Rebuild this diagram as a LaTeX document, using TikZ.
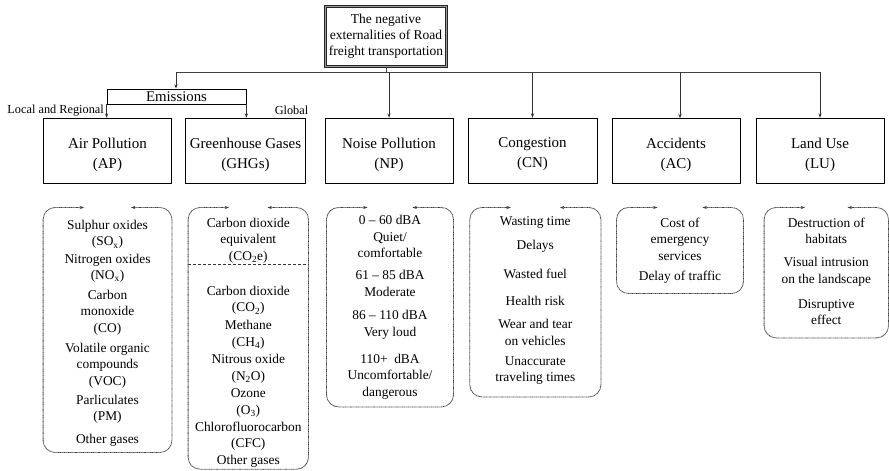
\documentclass[tikz,border=0pt]{standalone}
\usepackage{fontspec}
\setmainfont{Liberation Serif}
\usetikzlibrary{arrows.meta,calc}
\newcommand\drawlist[1]{%
  \draw[lst] ($(#1.north west)+(41,0)$) -- (#1.north west) -- (#1.south west)
     -- (#1.south east) -- (#1.north east) -- ($(#1.north east)+(-41,0)$);}
\begin{document}
\begin{tikzpicture}[x=1pt,y=-1pt,
  cat/.style={draw=black, line width=0.9pt, minimum height=65pt, inner sep=0pt},
  cattxt/.style={align=center, inner sep=0pt, font=\fontsize{15}{20}\selectfont},
  item/.style={align=center, inner sep=0pt, font=\fontsize{13.4}{16.5}\selectfont},
  lstnode/.style={inner sep=0pt, draw=none},
  lst/.style={draw=black!75, line width=0.8pt, dash pattern=on 0.7pt off 0.45pt,
     rounded corners=12pt, {Stealth[length=4.5pt,width=3.2pt]}-{Stealth[length=4.5pt,width=3.2pt]}},
  arr/.style={draw=black!80, line width=0.7pt, -{Stealth[length=4.5pt,width=3.2pt]}},
  conn/.style={draw=black!75, line width=0.7pt},
  lbl/.style={inner sep=0pt, font=\fontsize{12.3}{14}\selectfont}]
\useasboundingbox (0,0) rectangle (889,471);

% top box
\node[draw=black!85, line width=0.9pt, double=black!40, double distance=1.1pt,
      minimum width=121pt, minimum height=60pt, inner sep=1pt, align=center,
      font=\fontsize{13.5}{16}\selectfont] (top) at (386,36.5)
      {The negative\\externalities of Road\\freight transportation};

% emissions box
\node[draw=black, line width=0.8pt, minimum width=139pt, minimum height=15pt, inner sep=0pt,
      font=\fontsize{14.8}{15}\selectfont] (em) at (176.5,96.5) {Emissions};
\node[lbl, anchor=east] (locreg) at (104,111) {Local and Regional};
\node[lbl] (glob) at (291.5,110) {Global};

% category boxes
\node[cat, minimum width=128.4pt] (ap) at (107.5,150.8) {};
\node[cat, minimum width=119.3pt] (ghg) at (245.5,150.8) {};
\node[cat, minimum width=128pt] (np) at (389,150.8) {};
\node[cat, minimum width=129pt] (cn) at (532.5,150.8) {};
\node[cat, minimum width=128pt] (ac) at (676,150.8) {};
\node[cat, minimum width=128pt] (lu) at (820,150.8) {};
\node[cattxt] (apt) at (107.5,154.5) {Air Pollution\\(AP)};
\node[cattxt] (ghgt) at (245.5,154.5) {Greenhouse Gases\\(GHGs)};
\node[cattxt] (npt) at (389,154.5) {Noise Pollution\\(NP)};
\node[cattxt] (cnt) at (532.5,154.5) {Congestion\\(CN)};
\node[cattxt] (act) at (676,154.5) {Accidents\\(AC)};
\node[cattxt] (lut) at (820,154.5) {Land Use\\(LU)};

% connectors
\coordinate (jl) at (176,72);
\coordinate (jr) at (820,72);
\draw[conn] (jl) -- (jr);
\draw[conn] (top.south) -- (top.south |- jl);
\draw[arr] (jl) -- (jl |- em.north);
\draw[arr] (np.north |- jl) -- (np.north);
\draw[arr] (cn.north |- jl) -- (cn.north);
\draw[arr] (680,72) -- (680,118.3);
\draw[arr] (lu.north |- jl) -- (lu.north);
\draw[arr] (em.south west) -- (em.south west |- ap.north);
\draw[arr] (em.south east) -- (em.south east |- ghg.north);

% list frames
\node[lstnode, minimum width=128.4pt, minimum height=244.6pt] (apL) at (107.5,330) {};
\node[lstnode, minimum width=120pt, minimum height=261.3pt] (ghgL) at (248.3,338.35) {};
\node[lstnode, minimum width=126.6pt, minimum height=199pt] (npL) at (390,307.2) {};
\node[lstnode, minimum width=130.7pt, minimum height=189pt] (cnL) at (535.35,302.2) {};
\node[lstnode, minimum width=126.6pt, minimum height=85.6pt] (acL) at (680,250.5) {};
\node[lstnode, minimum width=124pt, minimum height=130pt] (luL) at (826.3,272.7) {};
\drawlist{apL}
\drawlist{ghgL}
\drawlist{npL}
\drawlist{cnL}
\drawlist{acL}
\drawlist{luL}
\coordinate (dl) at (188.3,264);
\coordinate (dr) at (308.3,264);
\draw[black!80, line width=0.7pt, dash pattern=on 3pt off 2pt] (dl) -- (dr);

% AP items
\node[item] (ap1) at (107.5,234.5) {Sulphur oxides\\(SO\textsubscript{x})};
\node[item] (ap2) at (107.5,268.2) {Nitrogen oxides\\(NO\textsubscript{x})};
\node[item] (ap3) at (107.5,312.7) {Carbon\\monoxide\\(CO)};
\node[item] (ap4) at (107.5,365.5) {Volatile organic\\compounds\\(VOC)};
\node[item] (ap5) at (107.5,409.2) {Parliculates\\(PM)};
\node[item] (ap6) at (107.5,440.5) {Other gases};

% GHG items
\node[item] (g1) at (248.3,240.5) {Carbon dioxide\\equivalent\\(CO\textsubscript{2}e)};
\node[item] (g2) at (248.3,300.5) {Carbon dioxide\\(CO\textsubscript{2})};
\node[item] (g3) at (248.3,334.8) {Methane\\(CH\textsubscript{4})};
\node[item] (g4) at (248.3,368.8) {Nitrous oxide\\(N\textsubscript{2}O)};
\node[item] (g5) at (248.3,403.2) {Ozone\\(O\textsubscript{3})};
\node[item] (g6) at (248.3,436.3) {Chlorofluorocarbon\\(CFC)};
\node[item] (g7) at (248.3,461.2) {Other gases};

% NP items
\node[item] (n1) at (390,236.8) {0 – 60 dBA\\Quiet/\\comfortable};
\node[item] (n2) at (390,283.3) {61 – 85 dBA\\Moderate};
\node[item] (n3) at (390,325) {86 – 110 dBA\\Very loud};
\node[item] (n4) at (390,376.4) {110+\ \ dBA\\Uncomfortable/\\dangerous};

% CN items
\node[item] (c1) at (535.3,222.8) {Wasting time};
\node[item] (c2) at (535.3,246.2) {Delays};
\node[item] (c3) at (535.3,273.8) {Wasted fuel};
\node[item] (c4) at (535.3,300.5) {Health risk};
\node[item] (c5) at (535.3,332.2) {Wear and tear\\on vehicles};
\node[item] (c6) at (535.3,370.5) {Unaccurate\\traveling times};

% AC items
\node[item] (a1) at (680,239.1) {Cost of\\emergency\\services};
\node[item] (a2) at (680,277.2) {Delay of traffic};

% LU items
\node[item] (l1) at (826.3,230.8) {Destruction of\\habitats};
\node[item] (l2) at (826.3,271.7) {Visual intrusion\\on the landscape};
\node[item] (l3) at (826.3,312.2) {Disruptive\\effect};
\end{tikzpicture}
\end{document}
